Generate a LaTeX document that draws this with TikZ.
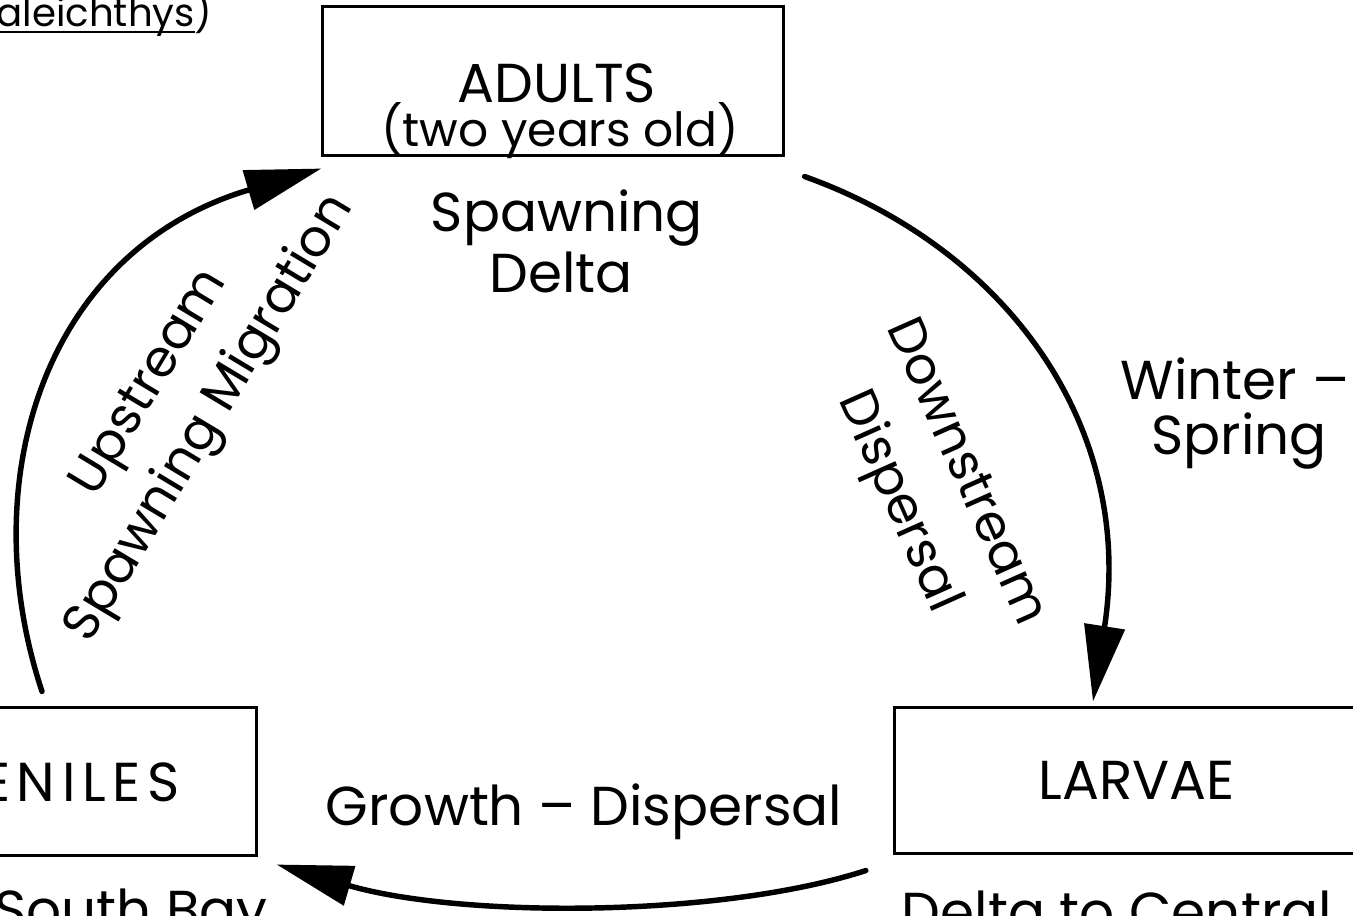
\documentclass[tikz,border=0pt]{standalone}
\usepackage{fontspec}
\setmainfont{Poppins}
\usetikzlibrary{arrows.meta}

\begin{document}
\begin{tikzpicture}[x=0.01cm,y=-0.01cm,
    stage/.style={draw,line width=0.85pt,inner sep=0pt,font=\fontsize{15.6}{18}\selectfont},
    txt/.style={inner sep=0pt,anchor=base,font=\fontsize{15.6}{18}\selectfont},
    turned/.style={inner sep=0pt,align=center,font=\fontsize{14.6}{20}\selectfont},
    flow/.style={line width=1.55pt,line cap=round,-{Triangle[length=0.76cm,width=0.4cm]}}]
  \path[use as bounding box,clip] (0,0) rectangle (1353,916);

  \draw (213,27) node[txt,anchor=base east,font=\fontsize{11}{13}\selectfont] (species) {\underline{\smash{thaleichthys}})};

  % the three stages
  \draw (553,81) node[stage,minimum width=4.6cm,minimum height=1.48cm] (adults) {};
  \draw (557,103) node[txt] (adultsname) {ADULTS};
  \draw (560,147) node[txt,font=\fontsize{13.4}{16}\selectfont] (adultsage) {(two years old)};
  \draw (567,232) node[txt] (spawnsite) {Spawning};
  \draw (561,293) node[txt] (spawndelta) {Delta};

  \draw (1137,780.5) node[stage,minimum width=4.85cm,minimum height=1.45cm] (larvae) {LARVAE};
  \draw (1117,932) node[txt] (larvaesite) {Delta to Central};

  \draw (15,781.5) node[stage,minimum width=4.82cm,minimum height=1.47cm] (juveniles) {};
  \draw (180,802) node[txt,anchor=base east] (juvname) {\addfontfeatures{LetterSpace=12}JUVENILES\hspace{-1.8pt}};
  \draw (131,930) node[txt] (juvsite) {South Bay};

  % arcs between them
  \coordinate (downfrom) at ([shift={(20,20)}]adults.south east);
  \coordinate (downto) at ([shift={(-44,-5)}]larvae.north);
  \coordinate (growfrom) at ([shift={(-27,16)}]larvae.south west);
  \coordinate (growto) at ([shift={(19,8)}]juveniles.south east);
  \coordinate (upfrom) at ([shift={(27,-15)}]juveniles.north);
  \coordinate (upto) at ([shift={(0,12)}]adults.south west);

  \draw[flow] (downfrom) .. controls (1010,250) and (1135,430) .. (downto);
  \draw[flow] (growfrom) .. controls (720,918) and (460,918) .. (growto);
  \draw[flow] (upfrom) .. controls (-28,480) and (45,250) .. (upto);

  \draw (930,488) node[turned,rotate=-66,font=\fontsize{14.6}{21}\selectfont] (downlabel) {Downstream\\Dispersal};
  \draw (1235,400) node[txt] (season) {Winter --};
  \draw (1239,455) node[txt] (seasonb) {Spring};
  \draw (584,826) node[txt] (growlabel) {Growth -- Dispersal};
  \draw (182,402) node[turned,rotate=59] (uplabel) {Upstream\\Spawning Migration};
\end{tikzpicture}
\end{document}
